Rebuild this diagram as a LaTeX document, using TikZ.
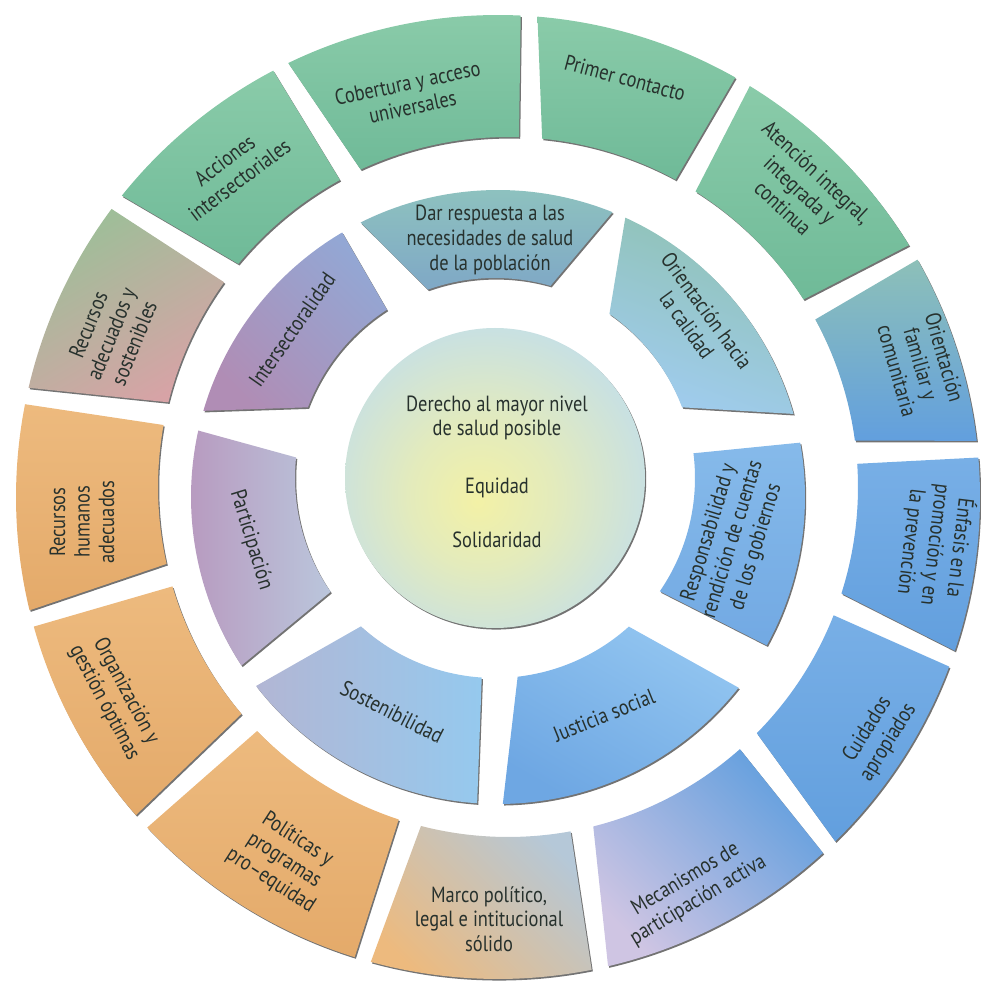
\documentclass[tikz,border=0pt]{standalone}
\usepackage{fontspec}
\setmainfont{PT Sans}[FakeStretch=0.84]
\usetikzlibrary{calc,shadows}

\definecolor{textocol}{HTML}{27312D}
\definecolor{verdeA}{HTML}{8ACBA9}
\definecolor{verdeB}{HTML}{6FBA98}
\definecolor{naranjaA}{HTML}{EDBA7E}
\definecolor{naranjaB}{HTML}{E4AA6A}
\definecolor{azulA}{HTML}{78AFE6}
\definecolor{azulB}{HTML}{629FDE}
\definecolor{tealA}{HTML}{8DC0B8}
\definecolor{lavanda}{HTML}{CFC5E3}
\definecolor{grisazul}{HTML}{B5C8D8}
\definecolor{verdegris}{HTML}{9CBF98}
\definecolor{rosa}{HTML}{D7A3A6}
\definecolor{darA}{HTML}{8FC4BE}
\definecolor{darB}{HTML}{7FA8C6}
\definecolor{calA}{HTML}{8FC2B3}
\definecolor{calB}{HTML}{A0CCEF}
\definecolor{resA}{HTML}{86BAEA}
\definecolor{resB}{HTML}{72A9E3}
\definecolor{jusA}{HTML}{92C5F0}
\definecolor{jusB}{HTML}{6EA7E3}
\definecolor{sosA}{HTML}{95C9EE}
\definecolor{sosB}{HTML}{B2B6D4}
\definecolor{parA}{HTML}{BAC6DC}
\definecolor{parB}{HTML}{B898BE}
\definecolor{intA}{HTML}{93A7D4}
\definecolor{intB}{HTML}{B08DB5}
\definecolor{amarillo}{HTML}{F3F1A6}
\definecolor{celeste}{HTML}{BFDDEF}
\definecolor{malva}{HTML}{C2C8E0}

\pgfdeclareradialshading{brillo}{\pgfpoint{-3bp}{-4bp}}{color(0bp)=(amarillo); color(12bp)=(amarillo!70!celeste); color(32bp)=(celeste); color(50bp)=(celeste!75!malva)}

\tikzset{
  rotulo/.style={align=center, text=textocol, inner sep=0pt, font=\fontsize{12.5}{14}\selectfont},
  sombra/.style={drop shadow={shadow xshift=0.7pt, shadow yshift=-0.9pt, opacity=0.55, fill=black}},
}

\begin{document}
\begin{tikzpicture}[x=0.02cm, y=0.02cm]
\def\Rext{482}
\def\Rint{350}
\def\rext{307}
\def\rint{200}

\useasboundingbox (0,0) rectangle (981,988);
\coordinate (C) at (498,491);
\coordinate (Ci) at (508,501);
\coordinate (O) at (495,510);

\foreach \ea/\eb/\ca/\cb/\ang in {59.5/86.3/verdeA/verdeB/0, 86.3/116.8/verdeA/verdeB/0,
  116.8/142.3/verdeA/verdeB/0, 142.3/167.9/verdegris/rosa/30, 167.9/194.6/naranjaA/naranjaB/0,
  194.6/222.3/naranjaA/naranjaB/0, 222.3/253.7/naranjaA/naranjaB/0, 253.7/282.2/grisazul/naranjaA/-45,
  282.2/313.4/azulB/lavanda/-45, 313.4/340.4/azulA/azulB/0, 340.4/365.7/azulA/azulB/0,
  5.7/30.5/tealA/azulB/0, 30.5/59.5/verdeA/verdeB/0}
{
\pgfmathsetmacro\ai{\ea+1}
\pgfmathsetmacro\bi{\eb-1}
\pgfmathsetmacro\aii{\ea+1.9}
\pgfmathsetmacro\bii{\eb-1.9}
\shade[sombra, top color=\ca, bottom color=\cb, shading angle=\ang]
  ($(C)+(\ai:\Rext)$) arc[start angle=\ai, end angle=\bi, radius=\Rext]
  -- ($(Ci)+(\bii:\Rint)$) arc[start angle=\bii, end angle=\aii, radius=\Rint] -- cycle;
}

\foreach \ea/\eb/\ia/\ib/\ca/\cb/\ang in {120.5/163.7/159.3/122.7/intA/intB/-45,
  68.1/116.6/109.6/73.9/darA/darB/0, 15.7/65.5/55.1/20.7/calA/calB/-20,
  -28.9/10.2/7.1/-34.5/resA/resB/0, -89.1/-38.4/-48/-83.5/jusA/jusB/-30,
  218/266.1/266.2/227.9/sosA/sosB/-90, 167.5/213.3/214.7/174.1/parA/parB/-90}
{
\shade[sombra, top color=\ca, bottom color=\cb, shading angle=\ang]
  ($(C)+(\ea:\rext)$) arc[start angle=\ea, end angle=\eb, radius=\rext]
  -- ($(O)+(\ia:\rint)$) arc[start angle=\ia, end angle=\ib, radius=\rint] -- cycle;
}

\shade[sombra, shading=brillo] (O) circle[radius=150];

\node[rotulo, rotate=12] (cobertura) at (410,893) {Cobertura y acceso\\universales};
\node[rotulo, rotate=-15] (primer) at (625,910) {Primer contacto};
\node[rotulo, rotate=-43] (atencion) at (800,798) {Atención integral,\\integrada y\\continua};
\node[rotulo, rotate=-74] (familiar) at (921,624) {Orientación\\familiar y\\comunitaria};
\node[rotulo, rotate=-97] (enfasis) at (936,443) {Énfasis en la\\promoción y en\\la prevención};
\node[rotulo, rotate=58] (cuidados) at (878,252) {Cuidados\\apropiados};
\node[rotulo, rotate=31] (mecanismos) at (692,98) {Mecanismos de\\participación activa};
\node[rotulo] (marco) at (489,69) {Marco político,\\legal e intitucional\\sólido};
\node[rotulo, rotate=-33] (politicas) at (284,128) {Políticas y\\programas\\pro--equidad};
\node[rotulo, rotate=-62] (organizacion) at (115,291) {Organización y\\gestión óptimas};
\node[rotulo, rotate=90] (humanos) at (82,466) {Recursos\\humanos\\adecuados};
\node[rotulo, rotate=68] (sostenibles) at (111,654) {Recursos\\adecuados y\\sostenibles};
\node[rotulo, rotate=37] (acciones) at (232,818) {Acciones\\intersectoriales};

\node[rotulo] (respuesta) at (490,748) {Dar respuesta a las\\necesidades de salud\\de la población};
\node[rotulo, rotate=-54] (calidad) at (697,670) {Orientación hacia\\la calidad};
\node[rotulo, rotate=73] (rendicion) at (733,448) {Responsabilidad y\\rendición de cuentas\\de los gobiernos};
\node[rotulo, rotate=22] (justicia) at (604,273) {Justicia social};
\node[rotulo, rotate=-27] (sostenibilidad) at (392,276) {Sostenibilidad};
\node[rotulo, rotate=-73] (participacion) at (251,448) {Participación};
\node[rotulo, rotate=55] (intersectoralidad) at (292,658) {Intersectoralidad};

\node[rotulo] (derecho) at (497,570) {Derecho al mayor nivel\\de salud posible};
\node[rotulo] (equidad) at (497,500) {Equidad};
\node[rotulo] (solidaridad) at (497,448) {Solidaridad};

\end{tikzpicture}
\end{document}
